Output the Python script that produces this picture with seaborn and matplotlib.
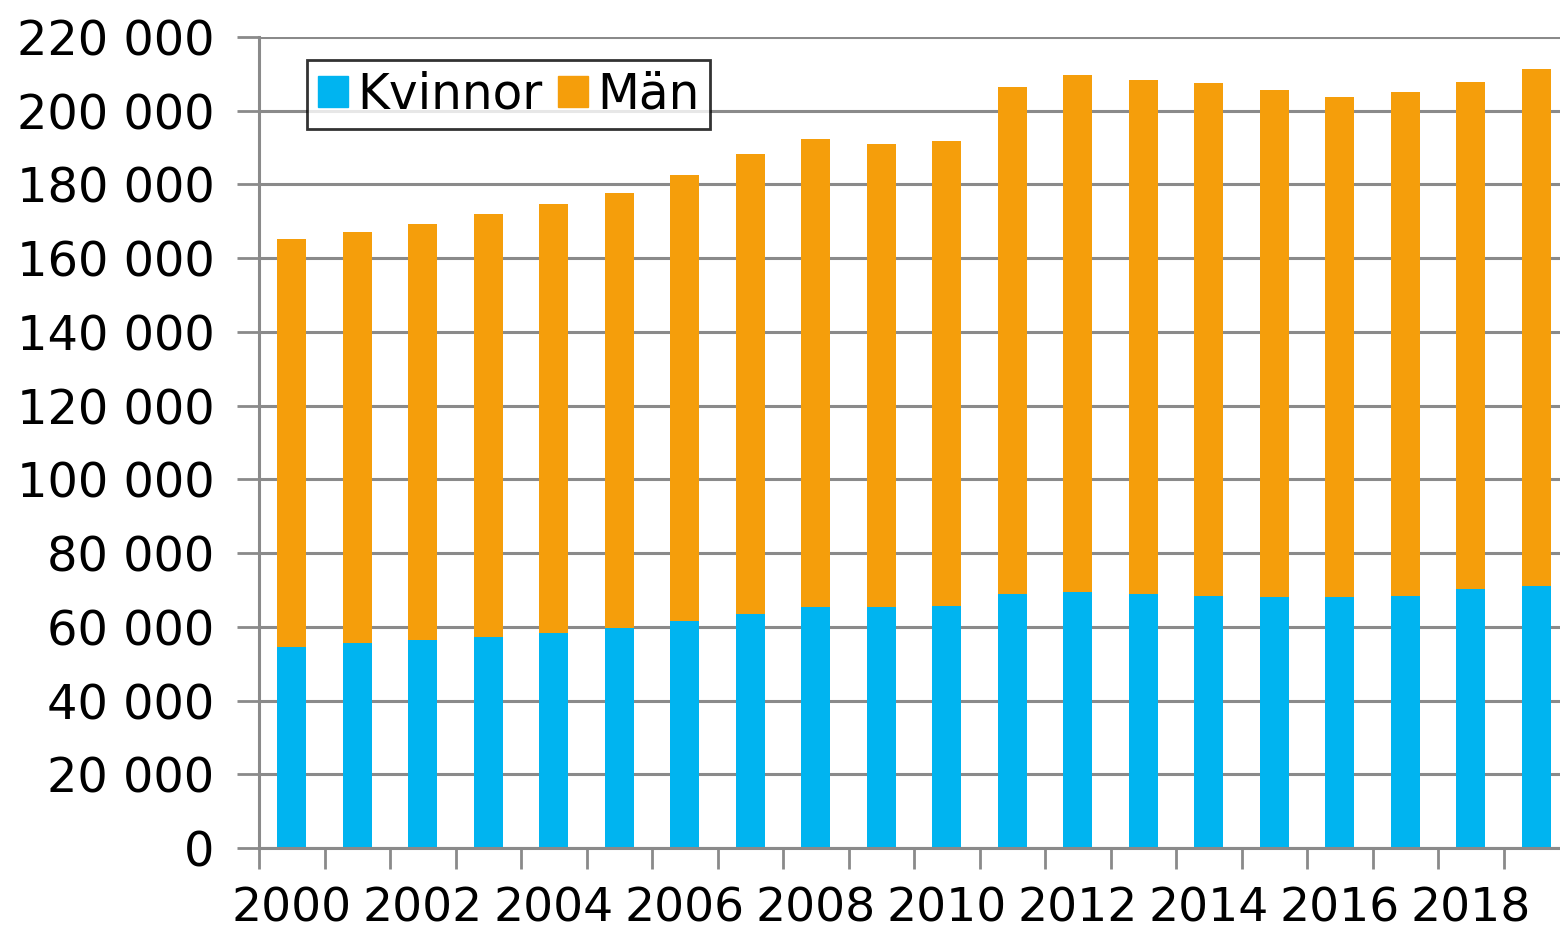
import matplotlib
matplotlib.use("Agg")
import matplotlib.pyplot as plt
from matplotlib.ticker import FuncFormatter, FixedLocator
from matplotlib.patches import Patch
import pandas as pd
import seaborn as sns

years = list(range(2000, 2020))
totals = [165.3, 167.1, 169.3, 172.0, 174.7, 177.7, 182.6, 188.3, 192.3, 191.0,
          191.8, 206.5, 209.7, 208.4, 207.5, 205.6, 203.7, 205.1, 207.8, 211.3]
kvinnor = [54.5, 55.6, 56.4, 57.2, 58.3, 59.7, 61.6, 63.5, 65.4, 65.4,
           65.7, 68.9, 69.4, 68.9, 68.4, 68.1, 68.1, 68.4, 70.3, 71.1]
totals = [v * 1000 for v in totals]
kvinnor = [v * 1000 for v in kvinnor]
man = [t - k for t, k in zip(totals, kvinnor)]

c_kv = "#00B4F0"
c_man = "#F59E0B"
grid_c = "#8a8a8a"

df = pd.DataFrame({"year": [str(y) for y in years], "Kvinnor": kvinnor,
                   "Man": man, "total": totals})

sns.set_style("white")
plt.rcParams["font.family"] = ["DejaVu Sans"]
plt.rcParams["text.color"] = "black"
plt.rcParams["xtick.color"] = "black"
plt.rcParams["ytick.color"] = "black"

fig = plt.figure(figsize=(15.6, 9.31), dpi=100)
ax = fig.add_axes([259 / 1560, 83 / 931, 1310 / 1560, 811 / 931])

ax.set_axisbelow(True)
ax.yaxis.grid(True, color=grid_c, linewidth=2.2)

# stacked: total (orange) underneath, women (blue) drawn over it
sns.barplot(data=df, x="year", y="total", color=c_man, width=0.45,
            saturation=1, linewidth=0, ax=ax)
sns.barplot(data=df, x="year", y="Kvinnor", color=c_kv, width=0.45,
            saturation=1, linewidth=0, ax=ax)

ax.set_xlim(-0.5, len(years) - 0.5)
ax.set_ylim(0, 220000)
ax.set_yticks(range(0, 220001, 20000))
ax.yaxis.set_major_formatter(FuncFormatter(lambda v, p: f"{int(v):,}".replace(",", " ")))

ax.xaxis.set_major_locator(FixedLocator(list(range(0, len(years), 2))))
ax.set_xticklabels([str(y) for y in years[::2]])
ax.xaxis.set_minor_locator(FixedLocator([i - 0.5 for i in range(len(years) + 1)]))
ax.tick_params(axis="x", which="major", bottom=True, length=0, pad=28,
               labelsize=34, labelcolor="black")
ax.tick_params(axis="x", which="minor", bottom=True, length=15, width=2,
               color=grid_c, direction="out")
ax.tick_params(axis="y", left=True, length=16, width=2, color=grid_c, pad=16,
               labelsize=34.5, labelcolor="black")
ax.set_xlabel("")
ax.set_ylabel("")

for s in ["top", "right"]:
    ax.spines[s].set_visible(False)
for s in ["left", "bottom"]:
    ax.spines[s].set_color(grid_c)
    ax.spines[s].set_linewidth(2.2)

handles = [Patch(color=c_kv, label="Kvinnor"), Patch(color=c_man, label="Män")]
leg = ax.legend(handles=handles, loc="upper left", bbox_to_anchor=(0.037, 0.972),
                ncol=2, fontsize=35, frameon=True, fancybox=False,
                handlelength=0.62, handleheight=0.62, handletextpad=0.18,
                columnspacing=0.33, borderpad=0.22, borderaxespad=0)
leg.get_frame().set_edgecolor("black")
leg.get_frame().set_linewidth(2)

fig.savefig("out.png", dpi=100)
